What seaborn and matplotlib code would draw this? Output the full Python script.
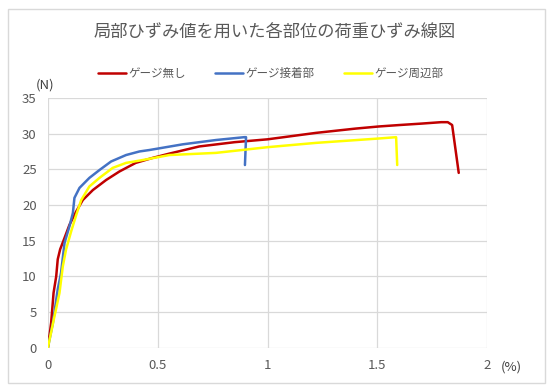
import matplotlib
matplotlib.use("Agg")
import matplotlib.pyplot as plt
import matplotlib.patches as patches
import seaborn as sns
import pandas as pd

# ゲージ無し
strain_none = [0, 0.015, 0.026, 0.038, 0.045, 0.056, 0.076, 0.098, 0.129, 0.159, 0.205,
               0.265, 0.326, 0.40, 0.477, 0.553, 0.689, 0.85, 1.0, 1.22, 1.4, 1.507,
               1.6, 1.7, 1.79, 1.82, 1.84, 1.87]
load_none = [0, 3.5, 7.7, 10.0, 12.4, 13.8, 15.4, 17.2, 19.1, 20.7, 22.1,
             23.5, 24.7, 25.9, 26.6, 27.2, 28.2, 28.8, 29.2, 30.1, 30.7, 31.0,
             31.2, 31.4, 31.6, 31.6, 31.2, 24.5]

# ゲージ接着部
strain_bond = [0, 0.023, 0.045, 0.06, 0.076, 0.098, 0.114, 0.121, 0.144, 0.189, 0.235,
               0.288, 0.356, 0.417, 0.462, 0.614, 0.765, 0.894, 0.902, 0.897]
load_bond = [0, 3.5, 8.2, 10.5, 14.7, 17.0, 18.9, 21.0, 22.4, 23.8, 24.9,
             26.1, 27.0, 27.5, 27.7, 28.5, 29.1, 29.5, 29.5, 25.6]

# ゲージ周辺部
strain_edge = [0, 0.03, 0.053, 0.068, 0.083, 0.106, 0.129, 0.152, 0.189, 0.235, 0.295,
               0.356, 0.432, 0.553, 0.765, 1.0, 1.22, 1.5, 1.585, 1.59]
load_edge = [0, 4.4, 7.7, 11.4, 13.8, 16.3, 18.6, 20.7, 22.6, 23.8, 25.2,
             25.9, 26.3, 27.0, 27.3, 28.1, 28.7, 29.3, 29.5, 25.6]

series = [
    ("ゲージ無し", strain_none, load_none, "#C00000"),
    ("ゲージ接着部", strain_bond, load_bond, "#4472C4"),
    ("ゲージ周辺部", strain_edge, load_edge, "#FFFF00"),
]

sns.set_style("white")
plt.rcParams["font.family"] = ["Noto Sans CJK JP", "DejaVu Sans"]

fig = plt.figure(figsize=(5.5, 3.9), dpi=100)
ax = fig.add_axes([0.087, 0.108, 0.799, 0.641])

for name, x, y, color in series:
    df = pd.DataFrame({"x": x, "y": y})
    sns.lineplot(data=df, x="x", y="y", sort=False, estimator=None, color=color,
                 linewidth=1.8, label=name, ax=ax)

ax.set_xlim(0, 2)
ax.set_ylim(0, 35)
ax.set_xticks([0, 0.5, 1, 1.5, 2])
ax.set_xticklabels(["0", "0.5", "1", "1.5", "2"])
ax.set_yticks(range(0, 36, 5))
ax.grid(True, color="#D9D9D9", linewidth=0.9)
ax.set_axisbelow(True)
for s in ax.spines.values():
    s.set_visible(False)
ax.tick_params(length=0, labelsize=9.5, colors="#595959", pad=8)
ax.set_xlabel("")
ax.set_ylabel("")

ax.legend(loc="lower center", bbox_to_anchor=(0.507, 1.03), ncol=3, frameon=False,
          fontsize=8.3, handlelength=2.4, handletextpad=0.2, columnspacing=2.6,
          labelcolor="#595959")

fig.text(0.5, 0.915, "局部ひずみ値を用いた各部位の荷重ひずみ線図", ha="center", va="center",
         fontsize=12.4, color="#595959")
fig.text(0.082, 0.782, "(N)", ha="center", va="center", fontsize=9.5, color="#404040")
fig.text(0.93, 0.059, "(%)", ha="center", va="center", fontsize=9.5, color="#404040")

fig.patches.append(patches.Rectangle((0.015, 0.018), 0.975, 0.96, transform=fig.transFigure,
                                     fill=False, edgecolor="#D9D9D9", linewidth=1))

fig.savefig("out.png", dpi=100)
